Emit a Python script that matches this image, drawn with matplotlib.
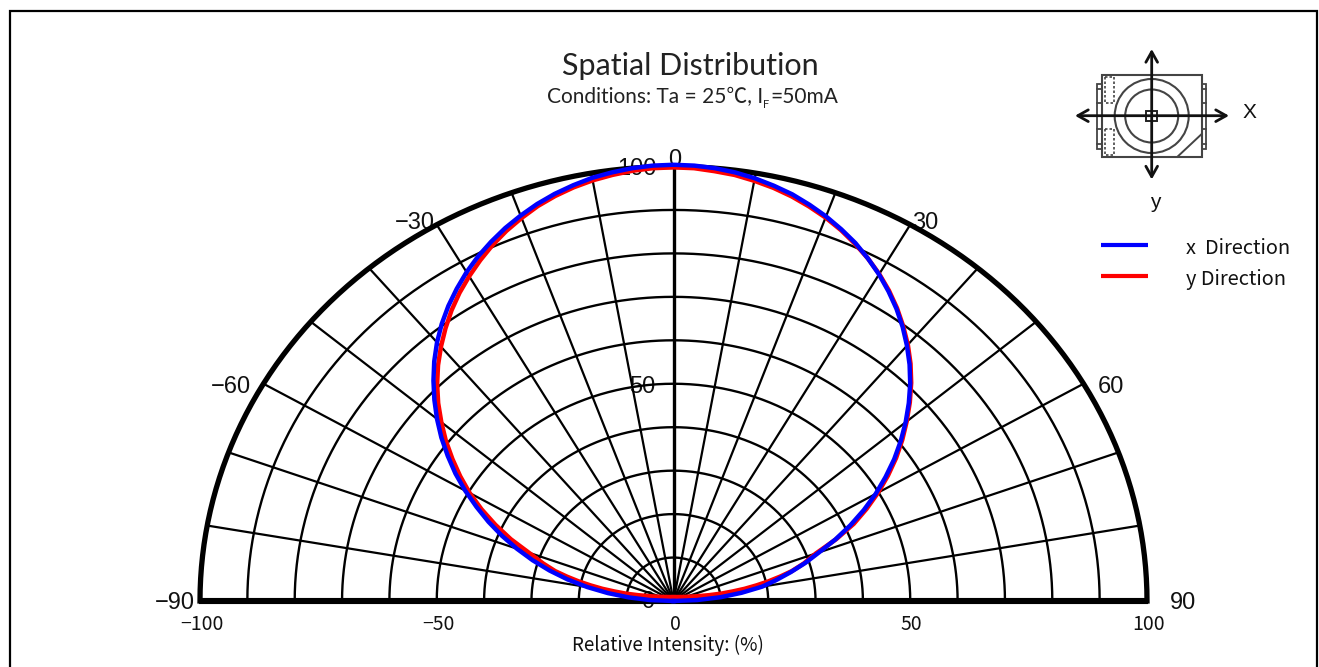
import numpy as np
import matplotlib
matplotlib.use('Agg')
import matplotlib.pyplot as plt
from matplotlib.patches import Rectangle, Circle

# Curves: angle from vertical (deg) and relative intensity (%)
blue_angle = [0, -87.5, -85, -82.5, -80, -77.5, -75, -72.5, -70, -67.5, -65, -62.5, -60, -57.5, -55, -52.5, -50,
              -47.5, -45, -42.5, -40, -37.5, -35, -32.5, -30, -27.5, -25, -22.5, -20, -17.5, -15, -12.5, -10,
              -7.5, -5, -2.5, 0, 2.5, 5, 7.5, 10, 12.5, 15, 17.5, 20, 22.5, 25, 27.5, 30, 32.5, 35, 37.5, 40,
              42.5, 45, 47.5, 50, 52.5, 55, 57.5, 60, 62.5, 65, 67.5, 70, 72.5, 75, 77.5, 80, 82.5, 85, 87.5, 0]
blue_value = [0, 5, 9.5, 14, 18.5, 22.9, 27.1, 31.2, 35.2, 39.2, 43.1, 46.9, 50.8, 54.6, 58.2, 61.8, 65.2,
              68.5, 71.7, 74.8, 77.7, 80.4, 82.9, 85.2, 87.4, 89.4, 91.2, 92.9, 94.4, 95.8, 97, 98, 98.9,
              99.5, 100, 100.3, 100.4, 100.3, 100, 99.5, 98.8, 97.9, 96.9, 95.6, 94.2, 92.6, 90.9, 88.9, 86.8,
              84.5, 82.1, 79.5, 76.7, 73.8, 70.7, 67.4, 64, 60.5, 56.9, 53.1, 49.3, 45.3, 41.2, 37, 32.7, 29.2,
              25.6, 22.2, 19, 14.5, 10, 5, 0]

red_angle = [0, -69.2, -77.6, -79.8, -80.4, -80, -79.4, -78.4, -77.3, -76, -74.6, -72.6, -70, -67.5, -65, -62.5,
             -60, -57.5, -55, -52.5, -50, -47.5, -45, -42.5, -40, -37.5, -35, -32.5, -30, -27.5, -25, -22.5, -20,
             -17.5, -15, -12.5, -10, -7.5, -5, -2.5, 0, 2.5, 5, 7.5, 10, 12.5, 15, 17.5, 20, 22.5, 25, 27.5, 30,
             32.5, 35, 37.5, 40, 42.5, 45, 47.5, 50, 52.5, 55, 57.5, 60, 62.5, 65, 67.5, 70, 72.6, 74.6, 76, 77.3,
             78.4, 79.4, 80, 80.4, 79.8, 77.6, 69.2, 0]
red_value = [0.9, 2.67, 5.12, 7.62, 10.14, 12.69, 15.26, 17.87, 20.5, 23.19, 25.93, 28.81, 32.5, 37.2, 41.5, 45.7,
             49.7, 53.4, 57, 60.6, 64, 67.4, 70.6, 73.6, 76.4, 79.1, 81.7, 84.1, 86.3, 88.4, 90.4, 92.2, 93.8,
             95.3, 96.5, 97.5, 98.3, 98.9, 99.4, 99.7, 99.8, 99.7, 99.3, 98.9, 98.2, 97.4, 96.4, 95.2, 93.9, 92.4,
             90.7, 88.9, 86.9, 84.7, 82.3, 79.7, 77, 74.1, 71, 67.7, 64.3, 60.9, 57.4, 53.7, 49.9, 46, 42, 37.2, 32,
             28.81, 25.93, 23.19, 20.5, 17.87, 15.26, 12.69, 10.14, 7.62, 5.12, 2.67, 0.9]

grid_radii = [10, 20, 30, 40, 50, 60, 70, 80, 90]
spoke_angles = [-80, -70, -60, -50, -40, -30, -20, -10, 10, 20, 30, 40, 50, 60, 70, 80]
x_ticks = [-100, -50, 0, 50, 100]
series_names = ['x  Direction', 'y Direction']

W, H = 1319, 667
fig = plt.figure(figsize=(W / 100, H / 100), dpi=100)
sans = ['Liberation Sans', 'DejaVu Sans']
gothic = ['Noto Sans CJK JP', 'DejaVu Sans']
title_font = ['Lato', 'Noto Sans CJK JP', 'DejaVu Sans']

# overlay in pixel coordinates for the frame, the labels and the package sketch
over = fig.add_axes([0, 0, 1, 1], zorder=0)
over.set_xlim(0, W)
over.set_ylim(H, 0)
over.axis('off')

# main chart: -100..100 spans 200..1147 px, 0..100 spans 601..166.5 px
left, right, top, base = 200, 1147, 166.5, 601
ax = fig.add_axes([left / W, 1 - base / H, (right - left) / W, (base - top) / H], zorder=1)
ax.set_xlim(-100, 100)
ax.set_ylim(0, 100)
ax.axis('off')
ax.patch.set_alpha(0)


def polar_xy(angle, value):
    t = np.radians(angle)
    return np.asarray(value) * np.sin(t), np.asarray(value) * np.cos(t)


# grid
sweep = np.linspace(-90, 90, 361)
for r in grid_radii:
    x, y = polar_xy(sweep, np.full_like(sweep, r))
    ax.plot(x, y, color='black', lw=1.7, clip_on=False, solid_capstyle='butt')
for a in spoke_angles:
    x, y = polar_xy(np.array([a, a]), np.array([0, 100]))
    ax.plot(x, y, color='black', lw=1.6, clip_on=False, solid_capstyle='butt')
ax.plot([0, 0], [0, 100], color='black', lw=2.4, clip_on=False, solid_capstyle='butt')

# outer arc and baseline
x, y = polar_xy(sweep, np.full_like(sweep, 100))
ax.plot(x, y, color='black', lw=3.8, clip_on=False, solid_capstyle='projecting')
ax.plot([-100.3, 100.3], [0, 0], color='black', lw=4.4, clip_on=False, solid_capstyle='butt')

# the two curves, blue on top
x, y = polar_xy(red_angle, red_value)
ax.plot(x, y, color='#ff0000', lw=3.2, clip_on=False, solid_joinstyle='round')
x, y = polar_xy(blue_angle, blue_value)
ax.plot(x, y, color='#0000ff', lw=3.2, clip_on=False, solid_joinstyle='round')

# frame
over.plot([9.5, 9.5, 1317, 1317], [H, 11, 11, H], color='black', lw=1.6, solid_joinstyle='miter')

# title block
over.text(690.5, 66, 'Spatial Distribution', family=title_font, fontsize=22, color='#222222',
          ha='center', va='center')
over.text(763, 97, 'Conditions: Ta = 25℃, I', family=title_font, fontsize=15, color='#222222',
          ha='right', va='center')
over.text(763.5, 104, 'F', family=title_font, fontsize=8, color='#222222', ha='left', va='center')
over.text(770, 97, '=50mA', family=title_font, fontsize=15, color='#222222', ha='left', va='center')

# angle and radial labels
angle_labels = [('−90', 175, 603), ('90', 1183, 603), ('−60', 231, 387), ('60', 1111, 387),
                ('−30', 415, 223), ('30', 925, 223), ('0', 675, 160), ('100', 637, 169),
                ('50', 642, 387), ('0', 648, 602)]
for txt, px, py in angle_labels:
    over.text(px, py, txt, family=sans, fontsize=17, color='#111111', ha='center', va='center')

# intensity axis
for tick in x_ticks:
    px = left + (tick + 100) / 200 * (right - left)
    label = str(tick).replace('-', '−')
    over.text(px + 1.5, 625, label, family=gothic, fontsize=14, color='#111111', ha='center', va='center')
over.text(668, 645, 'Relative Intensity: (%)', family=gothic, fontsize=13.6, color='#111111',
          ha='center', va='center')

# package sketch
ink = '#444444'
over.add_patch(Rectangle((1101.7, 74.5), 100, 82.2, fill=False, ec=ink, lw=1.5))
for lead_x in (1097.3, 1201.7):
    over.add_patch(Rectangle((lead_x, 83.5), 4.4, 65, fill=False, ec=ink, lw=1.3))
    for lead_y in (88.5, 102.5, 128.5, 143.5):
        over.plot([lead_x, lead_x + 4.4], [lead_y, lead_y], color=ink, lw=1.3)
for dash_y in (77, 128.5):
    over.add_patch(Rectangle((1105, dash_y), 9, 26, fill=False, ec=ink, lw=1.2, ls=(0, (1.5, 1.2))))
over.add_patch(Circle((1151.7, 116), 37, fill=False, ec=ink, lw=1.5))
over.add_patch(Circle((1151.7, 116), 26.5, fill=False, ec=ink, lw=1.5))
over.add_patch(Rectangle((1146, 110.5), 11, 10.5, fill=False, ec='#222222', lw=1.4))
over.plot([1177.5, 1201.7], [156.7, 134], color=ink, lw=1.4)
arrow = dict(arrowstyle='<->,head_length=0.75,head_width=0.42', color='#111111', lw=2.0,
             shrinkA=0, shrinkB=0)
over.annotate('', xy=(1075, 115.7), xytext=(1229, 115.7), arrowprops=arrow)
over.annotate('', xy=(1151.7, 49), xytext=(1151.7, 179.5), arrowprops=arrow)
over.text(1249, 112, 'X', family=sans, fontsize=15, color='#111111', ha='center', va='center')
over.text(1155, 203, 'y', family=sans, fontsize=15, color='#111111', ha='center', va='center')

# legend
over.plot([1101, 1148], [245, 245], color='#0000ff', lw=3.0, solid_capstyle='butt')
over.plot([1101, 1148], [275.7, 275.7], color='#ff0000', lw=3.0, solid_capstyle='butt')
over.text(1186, 249, series_names[0], family=gothic, fontsize=14.4, color='#111111', ha='left', va='center')
over.text(1186, 279, series_names[1], family=gothic, fontsize=14.4, color='#111111', ha='left', va='center')

plt.savefig('out.png', dpi=100)
